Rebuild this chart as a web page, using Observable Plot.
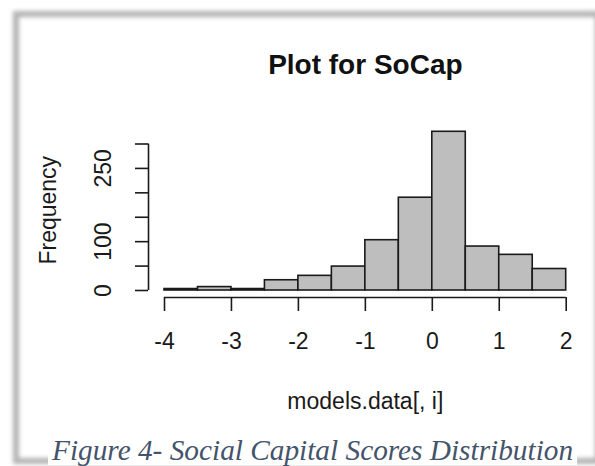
<!DOCTYPE html>
<html>
<head>
<meta charset="utf-8">
<script src="https://cdn.jsdelivr.net/npm/d3@7"></script>
<script src="https://cdn.jsdelivr.net/npm/@observablehq/plot@0.6"></script>
<style>
  html, body { margin: 0; padding: 0; background: #fff; }
  #wrap { position: relative; width: 595px; height: 466px; overflow: hidden; background: #fff; }
  #frame { position: absolute; left: 13px; top: 11px; width: 576px; height: 441px;
           border: 6px solid #b3b3b3; filter: blur(2px); }
  #chart { position: absolute; left: 0; top: 0; }
  #caption { position: absolute; left: 48px; top: 436px; padding: 0 4px; background: #fff;
             font-family: "Liberation Serif", "Times New Roman", serif; font-style: italic;
             font-size: 29.3px; line-height: 29px; color: #44546a; white-space: nowrap; }
</style>
</head>
<body>
<div id="wrap">
  <div id="frame"></div>
  <div id="chart"></div>
  <div id="caption">Figure 4- Social Capital Scores Distribution</div>
</div>
<script>
// Histogram data
const binStarts = [-4, -3.5, -3, -2.5, -2, -1.5, -1, -0.5, 0, 0.5, 1, 1.5];
const binWidth = 0.5;
const counts = [3, 7, 3, 21, 30, 49, 103, 190, 325, 90, 73, 44];
const xTicks = [-4, -3, -2, -1, 0, 1, 2];
const yTicks = [0, 50, 100, 150, 200, 250, 300];
const yLabels = [0, 100, 250];
const title = "Plot for SoCap";
const xLabel = "models.data[, i]";
const yLabel = "Frequency";

const bins = binStarts.map((s, i) => ({x1: s, x2: s + binWidth, count: counts[i]}));

const font = "'Liberation Sans', Arial, Helvetica, sans-serif";
const ink = "#1a1a1a";

const chart = Plot.plot({
  width: 595,
  height: 466,
  marginLeft: 164,
  marginRight: 29.3,
  marginTop: 143.5,
  marginBottom: 176,
  style: {fontFamily: font, fontSize: "23px", color: ink, background: "transparent", overflow: "visible"},
  x: {domain: [-4, 2], axis: null},
  y: {domain: [0, 300], axis: null},
  marks: [
    Plot.rectY(bins, {x1: "x1", x2: "x2", y: "count", fill: "#bebebe", stroke: ink, strokeWidth: 1.6}),
    // x axis (offset below the bars as in R)
    Plot.ruleY([0], {x1: xTicks[0], x2: xTicks[xTicks.length - 1], dy: 7, stroke: ink, strokeWidth: 1.6}),
    Plot.axisX({ticks: xTicks, tickSize: 14, dy: 7, tickFormat: () => "", stroke: ink, strokeWidth: 1.6, label: null}),
    Plot.text(xTicks, {x: d => d, y: 0, dy: 51, text: d => String(d).replace("−", "-"), fontSize: 23, fill: ink}),
    Plot.text([xLabel], {frameAnchor: "bottom", lineAnchor: "middle", dy: 111, fontSize: 23, fill: ink}),
    // y axis
    Plot.ruleX([xTicks[0]], {y1: yTicks[0], y2: yTicks[yTicks.length - 1], dx: -16, stroke: ink, strokeWidth: 1.6}),
    Plot.axisY({ticks: yTicks, tickSize: 13, dx: -16, tickFormat: () => "", stroke: ink, strokeWidth: 1.6, label: null}),
    Plot.text(yLabels, {x: xTicks[0], y: d => d, dx: -61, rotate: -90, text: d => String(d), fontSize: 23, fill: ink}),
    Plot.text([yLabel], {frameAnchor: "left", textAnchor: "middle", lineAnchor: "middle", dx: -116, dy: -7, rotate: -90, fontSize: 23, fill: ink}),
    // title
    Plot.text([title], {frameAnchor: "top", lineAnchor: "middle", dy: -78.5, fontSize: 28, fontWeight: "bold", fill: "#111"})
  ]
});
document.getElementById("chart").appendChild(chart);
</script>
</body>
</html>
